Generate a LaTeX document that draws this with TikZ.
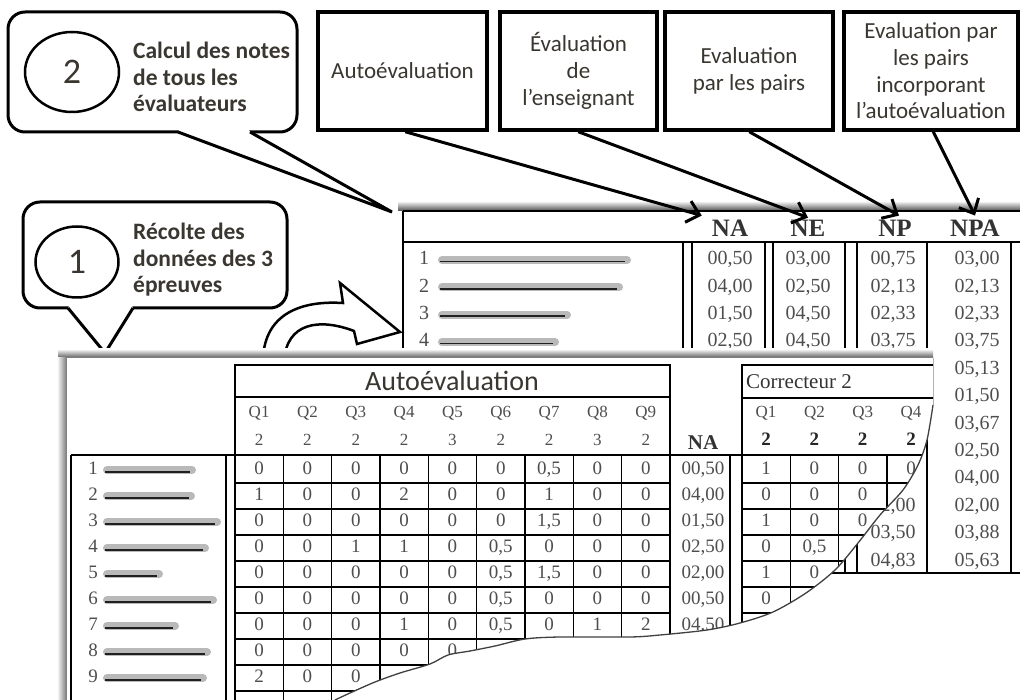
\documentclass[tikz,border=0pt]{standalone}
\usepackage{fontspec}
\setmainfont{Liberation Serif}
\newfontfamily\calib{Carlito}
\usetikzlibrary{arrows.meta,shapes.geometric}
\definecolor{inkgray}{RGB}{58,54,48}
\definecolor{numgray}{RGB}{78,78,78}

\begin{document}
\begin{tikzpicture}[x=1pt,y=-1pt,
    box/.style={draw,line width=3.5pt,align=center,text=inkgray,inner sep=0pt,
      font=\calib\fontsize{23}{26.7}\selectfont},
    bubble/.style={draw,line width=3pt,fill=white,rounded corners=17pt},
    bubtext/.style={anchor=west,align=left,text=inkgray,inner sep=0pt,
      font=\calib\bfseries\fontsize{23.5}{26.5}\selectfont},
    stepmark/.style={draw,ellipse,line width=2.5pt,text=inkgray,inner sep=0pt,
      font=\calib\fontsize{36}{36}\selectfont},
    pointer/.style={line width=3pt,-{Straight Barb[length=12pt,width=22pt]}},
    hdr/.style={inner sep=0pt,text=black!80,font=\bfseries\fontsize{25}{25}\selectfont},
    val/.style={inner sep=0pt,text=numgray,text height=13.5pt,text depth=4pt,
      font=\fontsize{20}{20}\selectfont},
    cell/.style={inner sep=0pt,text=numgray,text height=13pt,text depth=4pt,
      font=\fontsize{19}{19}\selectfont},
    qlab/.style={inner sep=0pt,text=numgray,text height=11.5pt,text depth=0pt,
      font=\fontsize{17}{17}\selectfont},
    smudge/.style={line width=8pt,gray!55,line cap=round},
    rule/.style={line width=2pt},
    thinrule/.style={line width=1.4pt}]
  \useasboundingbox (0,0) rectangle (1020,700);
  \fill[white] (0,0) rectangle (1020,700);

  \node[box,minimum width=169pt,minimum height=118pt] (boxNA) at (402.5,71) {Autoévaluation};
  \node[box,minimum width=157pt,minimum height=118pt] (boxNE) at (578.5,71) {Évaluation\\de\\l’enseignant};
  \node[box,minimum width=168pt,minimum height=118pt] (boxNP) at (749,71) {Evaluation\\par les pairs};
  \node[box,minimum width=174pt,minimum height=118pt] (boxNPA) at (931,71) {Evaluation par\\les pairs\\incorporant\\l’autoévaluation};

  \draw[bubble] (8,12) rectangle (297,132);
  \fill[white] (179.5,129) -- (248.5,129) -- (250,132) -- (392,212) -- (178,132) -- cycle;
  \draw[line width=3pt] (178,132) -- (392,212) -- (250,132);
  \node[stepmark,minimum width=94pt,minimum height=80pt] (stepTwo) at (72,72) {2};
  \node[bubtext] (calcTxt) at (133,77) {Calcul des notes\\de tous les\\évaluateurs};

  \draw[bubble] (23,202) rectangle (287,308);
  \fill[white] (69.5,305) -- (131.5,305) -- (133,308) -- (105,353) -- (68,308) -- cycle;
  \draw[line width=3pt] (68,308) -- (105,353) -- (133,308);
  \node[stepmark,minimum width=83pt,minimum height=71pt] (stepOne) at (77,262) {1};
  \node[bubtext] (recTxt) at (133,260) {Récolte des\\données des 3\\épreuves};

  \fill[white] (403,211) rectangle (1011,573);
  \shade[top color=white,bottom color=black!70] (398,201) rectangle (1020,211);
  \draw[rule] (403,211) -- (1020,211);
  \draw[rule] (403,211) -- (403,358);
  \draw[rule] (403,242) -- (1020,242);
  \foreach \x in {683,692,765,773,845,857,927,1011}
    \draw[rule] (\x,242) -- (\x,573);
  \draw[rule] (403,573) -- (1020,573);

  \node[hdr] (hdrNA) at (730,228) {NA};
  \node[hdr] (hdrNE) at (808,228) {NE};
  \node[hdr] (hdrNP) at (895,228) {NP};
  \node[hdr] (hdrNPA) at (975,228) {NPA};

  \draw[pointer] ([xshift=89pt]boxNA.south west) -- ([shift={(-10pt,4pt)}]hdrNA.north west);
  \draw[pointer] ([xshift=80pt]boxNE.south west) -- ([yshift=2pt]hdrNE.north);
  \draw[pointer] ([xshift=86pt]boxNP.south west) -- ([shift={(4pt,4pt)}]hdrNP.north);
  \draw[pointer] ([xshift=91pt]boxNPA.south west) -- ([yshift=4pt]hdrNPA.north);

  \foreach \r/\len in {1/185,2/177,3/125,4/113} {
    \node[val] (upName\r) at (424,{232.6+27.4*\r}) {\r};
    \draw[smudge] (442,{232.6+27.4*\r}) -- ++(\len,0);
    \draw[line width=1.5pt,gray!25!black] (440,{234+27.4*\r}) -- ++(\len,0);
  }
  \foreach \v [count=\k from 0] in {{00,50},{04,00},{01,50},{02,50}}
    \node[val] (upNA\k) at (730,{260+27.4*\k}) {\v};
  \foreach \v [count=\k from 0] in {{03,00},{02,50},{04,50},{04,50}}
    \node[val] (upNE\k) at (808,{260+27.4*\k}) {\v};
  \foreach \v [count=\k from 0] in {{00,75},{02,13},{02,33},{03,75}}
    \node[val] (upNP\k) at (893,{260+27.4*\k}) {\v};
  \foreach \v [count=\k from 9] in {{02,00},{03,50},{04,83}}
    \node[val] (upNP\k) at (893,{260+27.4*\k}) {\v};
  \foreach \v [count=\k from 0] in {{03,00},{02,13},{02,33},{03,75},{05,13},{01,50},
      {03,67},{02,50},{04,00},{02,00},{03,88},{05,63}}
    \node[val] (upNPA\k) at (977,{260+27.4*\k}) {\v};

  \draw[line width=2.5pt,fill=white,line join=miter]
    (263,362) .. controls (263,318) and (295,300) .. (343,303) -- (340,283)
    -- (400,332) -- (357,344) -- (354,331)
    .. controls (320,318) and (286,322) .. (284,362) -- cycle;

  \shade[top color=white,bottom color=black!65] (58,349) rectangle (933,358);
  \shade[left color=white,right color=black!55] (57,358) rectangle (67,700);
  \begin{scope}
    \clip (67,358) -- (933,358) -- (933,405) -- plot[smooth] coordinates {(933,405) (927,440)
      (918,465) (903,490) (880,515) (858,543) (835,570) (806,593) (773,612) (740,623)
      (707,630) (660,635) (630,637) (560,637) (525,639) (495,646) (470,651) (448,655)
      (430,664) (400,673) (375,682) (350,693) (335,700)} -- (67,700) -- cycle;
    \fill[white] (0,0) rectangle (1020,700);
    \draw[rule] (71,455) -- (71,700);
    \draw[rule] (71,455) -- (960,455);
    \draw[rule] (226,455) -- (226,700);
    \draw[rule] (235,365) -- (235,700);
    \draw[rule] (670,365) -- (670,700);
    \draw[rule] (235,365) rectangle (670,397);
    \node[text=inkgray,inner sep=0pt,font=\calib\fontsize{28}{28}\selectfont] (autoTitle) at (452,381) {Autoévaluation};
    \foreach \i in {1,...,8}
      \draw[thinrule] ({235+48.33*\i},455) -- ({235+48.33*\i},700);
    \foreach \k in {0,...,8}
      \draw[thinrule] (235,{483+26*\k}) -- (670,{483+26*\k});
    \foreach \i/\p in {1/2,2/2,3/2,4/2,5/3,6/2,7/2,8/3,9/2} {
      \node[qlab] (autoQ\i) at ({210.8+48.33*\i},412) {Q\i};
      \node[qlab] (autoPts\i) at ({210.8+48.33*\i},440) {\p};
    }
    \foreach \row [count=\r] in {{0,0,0,0,0,0,{0,5},0,0},{1,0,0,2,0,0,1,0,0},
        {0,0,0,0,0,0,{1,5},0,0},{0,0,1,1,0,{0,5},0,0,0},{0,0,0,0,0,{0,5},{1,5},0,0},
        {0,0,0,0,0,{0,5},0,0,0},{0,0,0,1,0,{0,5},0,1,2},{0,0,0,0,0},{2,0,0}}
      \foreach \v [count=\c] in \row
        \node[cell] at ({210.8+48.33*\c},{444+26*\r}) {\v};
    \foreach \r/\len in {1/85,2/84,3/110,4/98,5/52,6/106,7/68,8/100,9/96} {
      \node[cell] (loName\r) at (93,{444+26*\r}) {\r};
      \draw[smudge] (107,{444+26*\r}) -- ++(\len,0);
      \draw[line width=1.5pt,gray!25!black] (105,{446+26*\r}) -- ++(\len,0);
    }
    \node[inner sep=0pt,text=black!80,font=\bfseries\fontsize{21}{21}\selectfont] (loNA) at (703,443) {NA};
    \foreach \v [count=\r] in {{00,50},{04,00},{01,50},{02,50},{02,00},{00,50},{04,50}}
      \node[cell] (loNA\r) at (703,{444+26*\r}) {\v};
    \draw[rule] (730,455) -- (730,700);
    \draw[rule] (742,365) rectangle (970,398);
    \draw[rule] (742,365) -- (742,700);
    \node[anchor=west,inner sep=0pt,text=black!80,font=\fontsize{21}{21}\selectfont] (corrTitle) at (746,382) {Correcteur 2};
    \foreach \i in {1,...,4}
      \draw[thinrule] ({742+48.3*\i},455) -- ({742+48.3*\i},700);
    \foreach \k in {0,...,8}
      \draw[thinrule] (742,{483+26*\k}) -- (970,{483+26*\k});
    \foreach \i in {1,...,4} {
      \node[qlab] (corrQ\i) at ({717.8+48.3*\i},412) {Q\i};
      \node[qlab,font=\bfseries\fontsize{19}{19}\selectfont,text=black!85] (corrPts\i) at ({717.8+48.3*\i},440) {2};
    }
    \foreach \row [count=\r] in {{1,0,0,0},{0,0,0},{1,0,0},{0,{0,5},1},{1,0},{0}}
      \foreach \v [count=\c] in \row
        \node[cell] at ({717.8+48.3*\c},{444+26*\r}) {\v};
  \end{scope}
  \draw[line width=1.3pt,black!75] plot[smooth] coordinates {(933,405) (927,440)
      (918,465) (903,490) (880,515) (858,543) (835,570) (806,593) (773,612) (740,623)
      (707,630) (660,635) (630,637) (560,637) (525,639) (495,646) (470,651) (448,655)
      (430,664) (400,673) (375,682) (350,693) (335,700)};
  \draw[line width=1pt,black!30] (933,358) -- (933,405);
\end{tikzpicture}
\end{document}
